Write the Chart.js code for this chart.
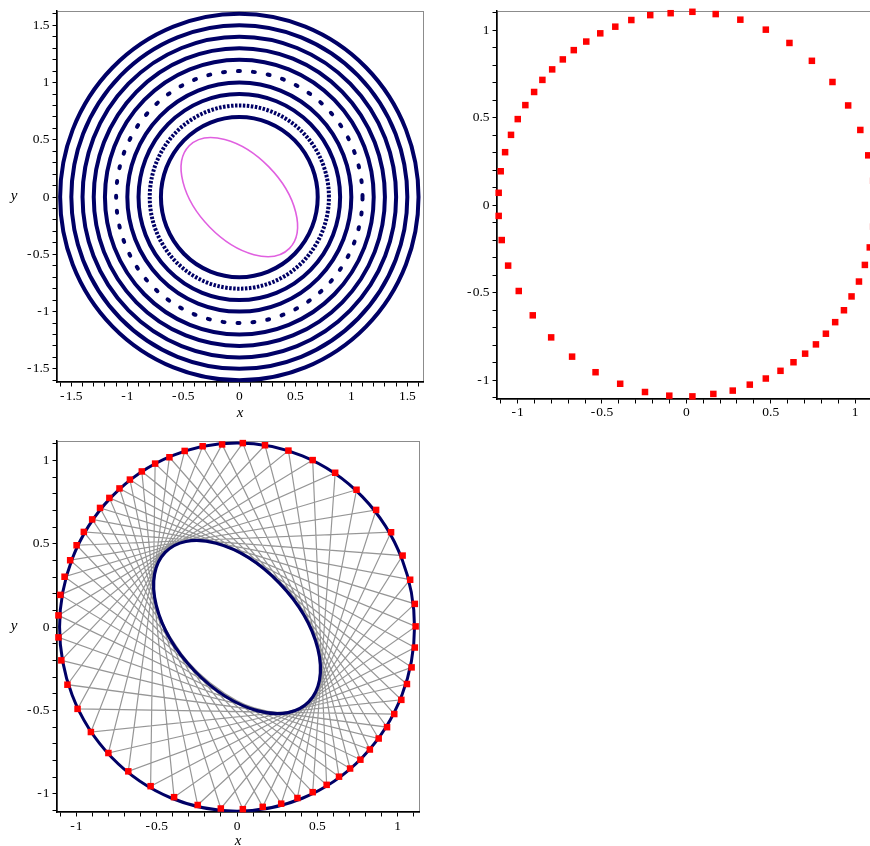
<!DOCTYPE html>
<html>
<head>
<meta charset="utf-8">
<title>Poncelet chords</title>
<script src="https://cdn.jsdelivr.net/npm/chart.js@4.4.1/dist/chart.umd.min.js"></script>
<style>
  html, body { margin: 0; padding: 0; background: #fff; }
  body { position: relative; width: 870px; height: 846px; overflow: hidden; }
  canvas { position: absolute; }
  #rings { left: 0; top: 0; }
  #dots { left: 440px; top: 0; }
  #chords { left: 0; top: 430px; }
</style>
</head>
<body>
<canvas id="rings" width="435" height="425"></canvas>
<canvas id="dots" width="440" height="425"></canvas>
<canvas id="chords" width="435" height="420"></canvas>
<script>
// contour levels of the first panel (radius of each ring)
var ringRadii = [0.7, 0.8, 0.9, 1.0, 1.1, 1.2, 1.3, 1.4, 1.5, 1.6];

// the inner conic: centre, semi axes, tilt of the major axis (degrees)
var ellipseCentre = [0, 0];
var ellipseAxes = [0.633, 0.373];
var ellipseTilt = -45;

// outer circle of the last panel
var circleRadius = 1.105;

// the 57 points on the circle, counter-clockwise starting at the top
var ptX = [0.036, -0.093, -0.214, -0.326, -0.421, -0.510, -0.593, -0.667, -0.732, -0.795,
  -0.853, -0.902, -0.954, -0.999, -1.039, -1.074, -1.100, -1.112, -1.112, -1.094,
  -1.056, -0.993, -0.910, -0.801, -0.677, -0.538, -0.392, -0.245, -0.101, 0.036,
  0.160, 0.275, 0.376, 0.471, 0.558, 0.635, 0.704, 0.768, 0.827, 0.882,
  0.934, 0.979, 1.023, 1.058, 1.087, 1.107, 1.112, 1.107, 1.078, 1.031,
  0.959, 0.866, 0.744, 0.611, 0.471, 0.320, 0.174];
var ptY = [1.104, 1.096, 1.085, 1.057, 1.019, 0.981, 0.934, 0.885, 0.832, 0.775,
  0.715, 0.646, 0.571, 0.491, 0.401, 0.302, 0.193, 0.070, -0.062, -0.200,
  -0.346, -0.491, -0.630, -0.756, -0.866, -0.955, -1.021, -1.068, -1.089, -1.093,
  -1.079, -1.060, -1.026, -0.991, -0.947, -0.898, -0.849, -0.796, -0.735, -0.669,
  -0.601, -0.522, -0.437, -0.342, -0.242, -0.123, 0.004, 0.139, 0.284, 0.429,
  0.569, 0.703, 0.824, 0.926, 1.002, 1.059, 1.091];

// every chord joins a point to the one this many places further round
var chordStep = 20;

// tick labels
var ticksRings = [-1.5, -1, -0.5, 0, 0.5, 1, 1.5];
var ticksUnit = [-1, -0.5, 0, 0.5, 1];

// ------------------------------------------------------------------

var serif = "'Liberation Serif', 'Times New Roman', 'DejaVu Serif', serif";
var navy = '#000066';
Chart.defaults.font.family = serif;

var points = ptX.map(function (x, i) { return {x: x, y: ptY[i]}; });
var chordPath = [];
for (var k = 0; k <= points.length; k++) {
  chordPath.push(points[(k * chordStep) % points.length]);
}

// maple writes its minus a little apart from the digits
function tickText(r) {
  return r < 0 ? '-\u200A' + String(-r) : String(r);
}

function axisCfg(min, max, labels, pad, size, title) {
  var cfg = {
    type: 'linear', min: min, max: max,
    ticks: {
      stepSize: 0.1, includeBounds: false, autoSkip: false, maxRotation: 0,
      color: '#000', padding: pad, font: {family: serif, size: 13.5},
      callback: function (v) {
        var r = Math.round(v * 10) / 10;
        return labels.indexOf(r) >= 0 ? tickText(r) : '';
      }
    },
    grid: {drawOnChartArea: false, drawTicks: true, tickLength: 4.5, color: '#000', lineWidth: 1},
    border: {display: true, color: '#000', width: 1.5},
    afterFit: function (s) {
      if (s.isHorizontal()) s.height = size; else s.width = size;
    }
  };
  if (title) {
    cfg.title = {
      display: true, text: title.text, color: '#000',
      padding: {top: 0, bottom: title.bottom},
      font: {family: serif, size: 15, style: 'italic', lineHeight: 1}
    };
  }
  return cfg;
}

// grey box round the plot, and the upright "y" label on the left
function framePlugin(yLetter) {
  return {
    id: 'frame',
    beforeDraw: function (chart) {
      var ctx = chart.ctx, a = chart.chartArea;
      ctx.save();
      ctx.strokeStyle = '#8c8c8c';
      ctx.lineWidth = 1;
      ctx.strokeRect(Math.round(a.left) + 0.5, Math.round(a.top) + 0.5,
        Math.round(a.right - a.left), Math.round(a.bottom - a.top));
      ctx.restore();
    },
    afterDraw: function (chart) {
      if (!yLetter) return;
      var ctx = chart.ctx, a = chart.chartArea;
      ctx.save();
      ctx.fillStyle = '#000';
      ctx.font = 'italic 15px ' + serif;
      ctx.textAlign = 'center';
      ctx.textBaseline = 'middle';
      ctx.fillText(yLetter, a.left - 43, (a.top + a.bottom) / 2 - 0.5);
      ctx.restore();
    }
  };
}

// circles and ellipses, placed with the chart's own x and y scales
function conicPlugin(curves, afterIndex) {
  function draw(chart) {
    var ctx = chart.ctx, a = chart.chartArea;
    var x = chart.scales.x, y = chart.scales.y;
    var kx = x.getPixelForValue(1) - x.getPixelForValue(0);
    var ky = y.getPixelForValue(0) - y.getPixelForValue(1);
    ctx.save();
    ctx.beginPath();
    ctx.rect(a.left, a.top, a.right - a.left, a.bottom - a.top);
    ctx.clip();
    curves.forEach(function (c) {
      ctx.save();
      ctx.translate(x.getPixelForValue(c.cx), y.getPixelForValue(c.cy));
      ctx.scale(kx, -ky);
      ctx.rotate(c.tilt * Math.PI / 180);
      ctx.beginPath();
      ctx.ellipse(0, 0, c.a, c.b, 0, 0, 2 * Math.PI);
      ctx.restore();
      ctx.save();
      ctx.strokeStyle = c.color;
      ctx.lineWidth = c.width;
      ctx.setLineDash(c.dash || []);
      ctx.lineCap = c.cap || 'butt';
      ctx.stroke();
      ctx.restore();
    });
    ctx.restore();
  }
  return {
    id: 'conics',
    afterDatasetDraw: function (chart, args) {
      if (afterIndex !== undefined && args.index === afterIndex) draw(chart);
    },
    afterDatasetsDraw: function (chart) {
      if (afterIndex === undefined) draw(chart);
    }
  };
}

var ringDash = {0.8: [2.5, 1.5], 1.1: [2, 13]};
var ringCurves = ringRadii.map(function (r) {
  return {cx: 0, cy: 0, a: r, b: r, tilt: 0, color: navy, width: 4,
    dash: ringDash[r] || [], cap: ringDash[r] && ringDash[r][1] > 5 ? 'round' : 'butt'};
});
ringCurves.push({cx: ellipseCentre[0], cy: ellipseCentre[1], a: ellipseAxes[0], b: ellipseAxes[1],
  tilt: ellipseTilt, color: '#e060e0', width: 1.6});

var chordCurves = [
  {cx: 0, cy: 0, a: circleRadius, b: circleRadius, tilt: 0, color: navy, width: 3},
  {cx: ellipseCentre[0], cy: ellipseCentre[1], a: ellipseAxes[0], b: ellipseAxes[1],
    tilt: ellipseTilt, color: navy, width: 3.2}
];

var common = {
  responsive: false, animation: false, events: [], devicePixelRatio: 1,
  plugins: {legend: {display: false}, tooltip: {enabled: false}}
};

function pointSet() {
  return {
    data: points, pointStyle: 'rect', pointRadius: 4.6,
    pointBackgroundColor: '#ff0000', pointBorderWidth: 0, showLine: false, clip: false
  };
}

// panel 1: contour rings
new Chart(document.getElementById('rings'), {
  type: 'scatter',
  data: {datasets: []},
  options: Object.assign({}, common, {
    layout: {padding: {top: 5, right: 12, left: 0, bottom: 0}},
    scales: {
      x: axisCfg(-1.628, 1.640, ticksRings, 2, 43, {text: 'x', bottom: 4.5}),
      y: axisCfg(-1.615, 1.624, ticksRings, 3, 57)
    }
  }),
  plugins: [framePlugin('y'), conicPlugin(ringCurves)]
});

// panel 2: the points alone
new Chart(document.getElementById('dots'), {
  type: 'scatter',
  data: {datasets: [pointSet()]},
  options: Object.assign({}, common, {
    layout: {padding: {top: 8, right: 5, left: 0, bottom: 0}},
    scales: {
      x: axisCfg(-1.122, 1.118, ticksUnit, 1, 26),
      y: axisCfg(-1.108, 1.108, ticksUnit, 3, 57)
    }
  }),
  plugins: [framePlugin(null)]
});

// panel 3: points, chords, circle and the enveloped ellipse
new Chart(document.getElementById('chords'), {
  type: 'scatter',
  data: {
    datasets: [
      pointSet(),
      {
        data: chordPath, showLine: true, borderColor: 'rgb(150,150,150)', borderWidth: 1.2,
        pointRadius: 0, tension: 0
      }
    ]
  },
  options: Object.assign({}, common, {
    layout: {padding: {top: 8, right: 16, left: 0, bottom: 0}},
    scales: {
      x: axisCfg(-1.121, 1.133, ticksUnit, 1.5, 38, {text: 'x', bottom: 1.5}),
      y: axisCfg(-1.110, 1.116, ticksUnit, 3, 57)
    }
  }),
  plugins: [framePlugin('y'), conicPlugin(chordCurves, 1)]
});
</script>
</body>
</html>
